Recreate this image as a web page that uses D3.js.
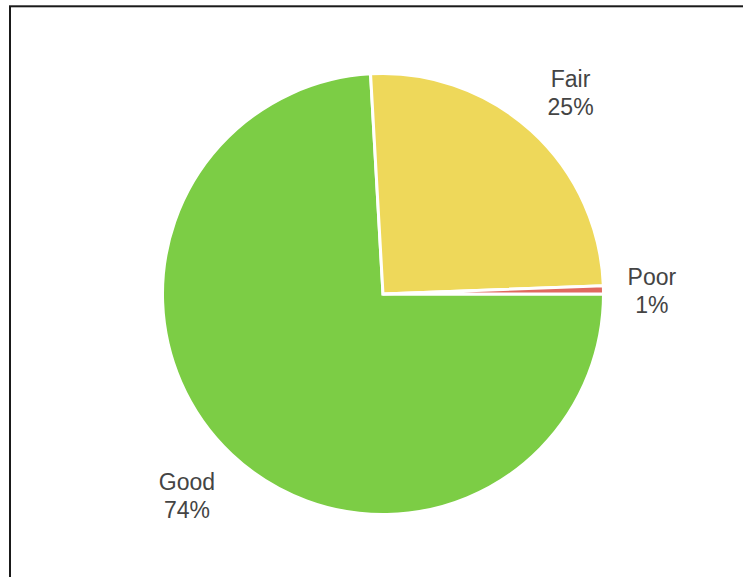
<!DOCTYPE html>
<html>
<head>
<meta charset="utf-8">
<script src="https://cdn.jsdelivr.net/npm/d3@7"></script>
<style>
  html, body { margin: 0; padding: 0; background: #ffffff; }
  svg { display: block; }
</style>
</head>
<body>
<svg id="chart" width="743" height="577"></svg>
<script>
// Condition ratings, share of total (%)
const categories = ["Good", "Fair", "Poor"];
const values = [74.1, 25.3, 0.6];
const colors = ["#7ccd45", "#eed85a", "#e0695f"];

const width = 743, height = 577;
const cx = 383, cy = 294, radius = 220.5;

const svg = d3.select("#chart");

// Frame around the plot area
svg.append("rect")
  .attr("x", 10).attr("y", 6.3)
  .attr("width", 800).attr("height", 700)
  .attr("fill", "none")
  .attr("stroke", "#1a1a1a")
  .attr("stroke-width", 2);

const data = categories.map((c, i) => ({ name: c, value: values[i], color: colors[i] }));
const total = d3.sum(values);

const pie = d3.pie()
  .sort(null)
  .value(d => d.value)
  .startAngle(Math.PI / 2)
  .endAngle(Math.PI / 2 + 2 * Math.PI);

const arc = d3.arc().innerRadius(0).outerRadius(radius);
const arcs = pie(data);

const g = svg.append("g").attr("transform", `translate(${cx},${cy})`);

g.selectAll("path.slice")
  .data(arcs)
  .join("path")
  .attr("class", "slice")
  .attr("d", arc)
  .attr("fill", d => d.data.color)
  .attr("stroke", "#ffffff")
  .attr("stroke-width", 3)
  .attr("stroke-linejoin", "miter");

// Outside labels: name on the first line, rounded percent on the second.
const labelGap = 24;
const labels = g.selectAll("g.label")
  .data(arcs)
  .join("g")
  .attr("class", "label");

labels.each(function (d) {
  const lg = d3.select(this);
  const t = lg.append("text")
    .attr("text-anchor", "middle")
    .attr("font-family", "'Liberation Sans', Arial, sans-serif")
    .attr("font-size", 23)
    .attr("fill", "#444444");
  t.append("tspan").attr("x", 0).attr("y", 0).text(d.data.name);
  t.append("tspan").attr("x", 0).attr("y", 28)
    .text(Math.round(d.data.value / total * 100) + "%");

  // Visible block: cap top of first line to baseline of second line
  const bb = t.node().getBBox();
  const capTop = -23 * 0.716;
  const w = bb.width, h = 28 - capTop;
  const mid = (d.startAngle + d.endAngle) / 2;
  const dx = Math.sin(mid), dy = -Math.cos(mid);
  const ax = dx * (radius + labelGap), ay = dy * (radius + labelGap);
  const clamp = v => Math.max(-1, Math.min(1, v));
  const bx = ax + clamp(dx * 2) * w / 2;
  const by = ay + clamp(dy * 2) * h / 2;
  // place text so the block centre sits at (bx, by), nudged to the text's optical centre
  lg.attr("transform", `translate(${bx},${by - (capTop + 28) / 2 + 2})`);
});
</script>
</body>
</html>
